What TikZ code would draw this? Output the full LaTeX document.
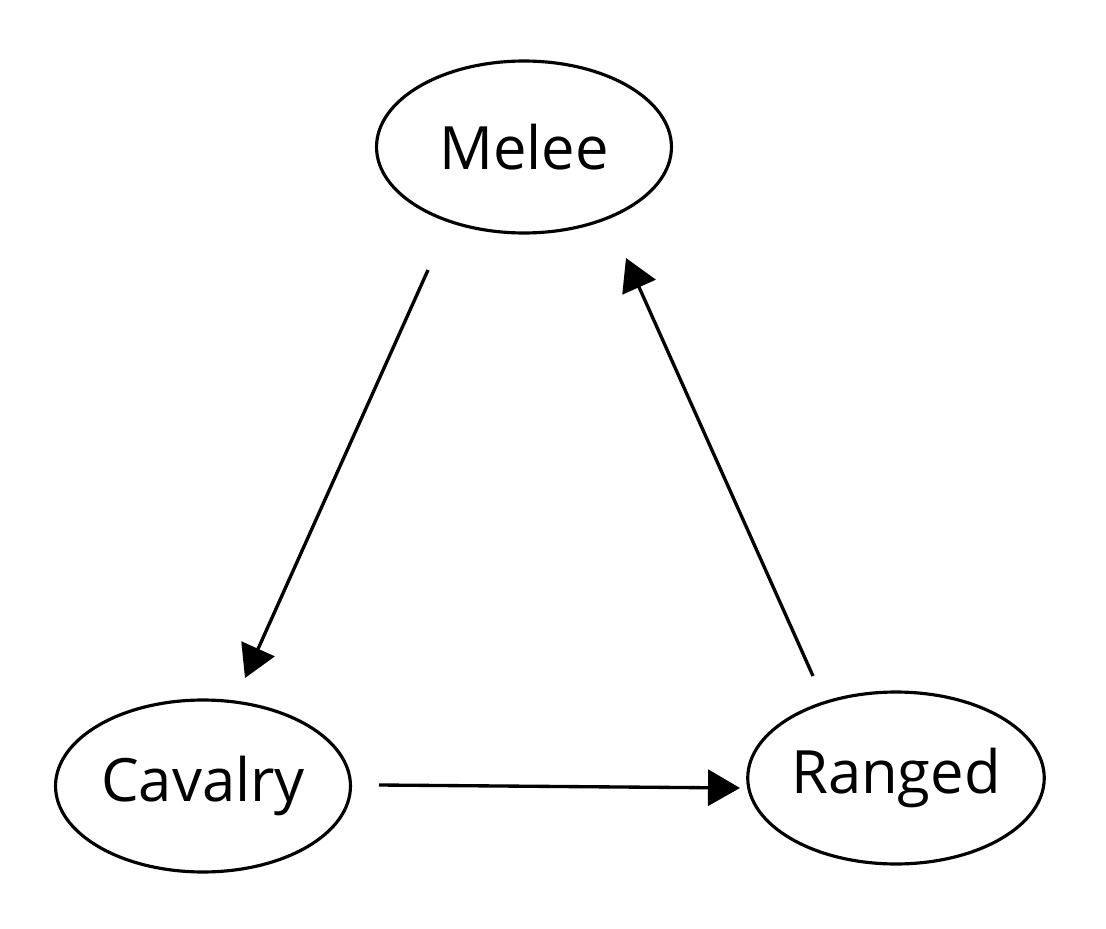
\documentclass[tikz,border=0pt]{standalone}
\usepackage{fontspec}
\setmainfont{Open Sans}
\usepackage{tikz}
\usetikzlibrary{shapes.geometric, arrows.meta}

\begin{document}
\begin{tikzpicture}[x=0.02cm, y=-0.02cm,
    unit/.style={ellipse, draw, line width=1.8pt, minimum width=5.9cm, minimum height=3.44cm, inner sep=0pt, font=\fontsize{34}{40}\selectfont},
    beats/.style={-{Triangle[length=0.64cm, width=0.72cm]}, line width=1.9pt}]
  \useasboundingbox (0,0) rectangle (1106,929);
  \node[unit] (Melee) at (524,147) {Melee};  % Top
  \node[unit] (Cavalry) at (203,786) {Cavalry};  % Bottom left
  \node[unit] (Ranged) at (896,778) {Ranged};  % Bottom right
  \coordinate (Melee-out) at (428,270);
  \coordinate (Melee-in) at (626,258);
  \coordinate (Cavalry-in) at (245,678);
  \coordinate (Cavalry-out) at (379,785);
  \coordinate (Ranged-in) at (740,788);
  \coordinate (Ranged-out) at (813,676);
  \draw[beats] (Melee-out) -- (Cavalry-in);  % Melee beats Cavalry
  \draw[beats] (Cavalry-out) -- (Ranged-in);  % Cavalry beats Ranged
  \draw[beats] (Ranged-out) -- (Melee-in);  % Ranged beats Melee
\end{tikzpicture}
\end{document}
